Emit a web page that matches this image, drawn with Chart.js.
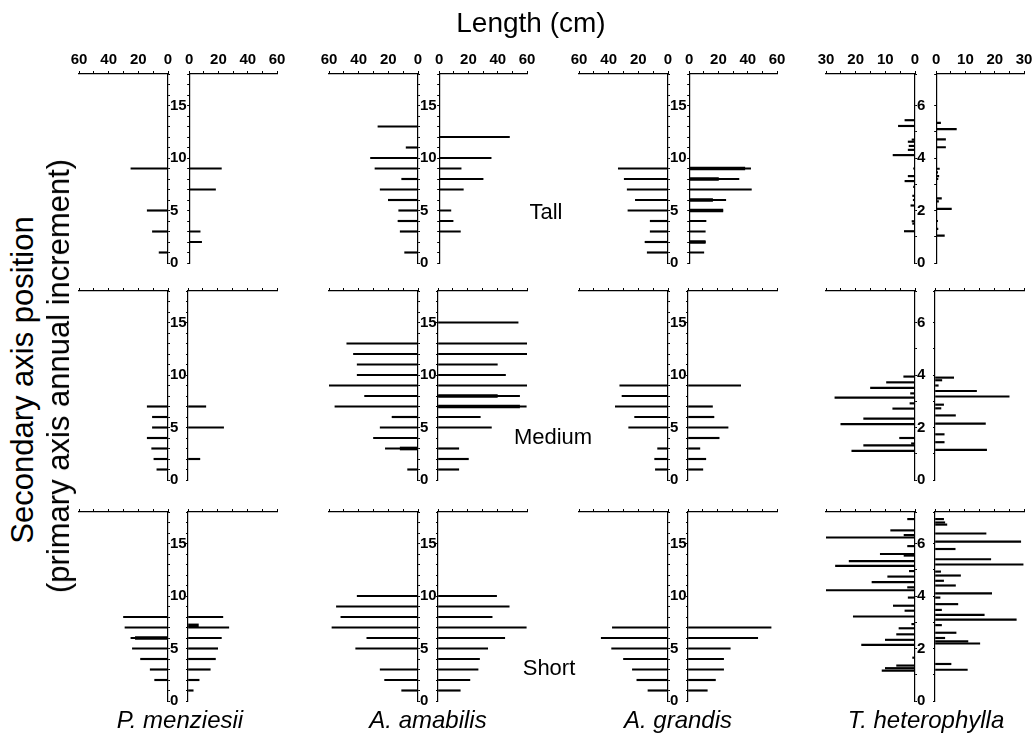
<!DOCTYPE html>
<html>
<head>
<meta charset="utf-8">
<script src="https://cdn.jsdelivr.net/npm/chart.js@4.4.1/dist/chart.umd.min.js"></script>
<style>
body{margin:0;background:#fff;}
#fig{position:relative;width:1032px;height:743px;overflow:hidden;font-family:"Liberation Sans",Arial,sans-serif;color:#000;}
#fig canvas{position:absolute;}
.lbl{position:absolute;transform:translate(-50%,-50%);white-space:nowrap;}
.rot{transform:translate(-50%,-50%) rotate(-90deg);}
</style>
</head>
<body>
<div id="fig"></div>
<script>
// crown profiles: [axis position, branch length cm]
const species = ["P. menziesii", "A. amabilis", "A. grandis", "T. heterophylla"];
const heightClass = ["Tall", "Medium", "Short"];
const xMax = [60, 60, 60, 30];
const xStep = [10, 10, 10, 5];
const xLabelEvery = [20, 20, 20, 10];
const yMax = [18, 18, 18, 7.2];
const yLabelEvery = [5, 5, 5, 2];

// P. menziesii
const pmTallL = [[9,25],[5,14],[3,10.5],[1,6]];
const pmTallR = [[9,22],[7,18],[3,7.5],[2,8.5]];
const pmMedL = [[7,14],[6,10.5],[5,10.5],[4,14],[3,11],[2,9.5],[1,7.5]];
const pmMedR = [[7,12],[5,24],[2,8]];
const pmShortL = [[8,30],[7,29],[6,25],[5,24],[4,18.5],[3,12],[2,9]];
const pmShortLBold = [[6,22]];
const pmShortR = [[8,23.5],[7,27.5],[6,22.5],[5,20],[4,18.5],[3,15],[2,7.5],[1,3.5]];
const pmShortRBold = [[7.2,7]];

// A. amabilis
const aaTallL = [[13,27],[11,8],[10,32],[9,29],[8,11],[7,25.5],[6,20],[5,13],[4,13.5],[3,12],[1,9]];
const aaTallR = [[12,48],[10,35.5],[9,15],[8,30],[7,16.5],[5,8],[4,9.5],[3,14.5]];
const aaMedL = [[13,48],[12,43.5],[11,41],[10,41],[9,60],[8,36],[7,56],[6,17.5],[5,25.5],[4,30],[3,22],[1,7]];
const aaMedLBold = [[3,12]];
const aaMedR = [[15,54],[13,60],[12,60],[11,40],[10,45.5],[9,60],[8,55],[7,59.5],[6,28.5],[5,36],[3,14],[2,20.5],[1,14]];
const aaMedRBold = [[8,40],[7,55]];
const aaShortL = [[10,41],[9,55],[8,52],[7,58],[6,34.5],[5,42],[3,25.5],[2,22.5],[1,11]];
const aaShortR = [[10,39.5],[9,48],[8,36.5],[7,59.5],[6,45],[5,33.5],[4,28],[3,27],[2,21.5],[1,15]];

// A. grandis
const agTallL = [[9,33.5],[8,29.5],[7,27.5],[6,22],[5,27],[4,12],[3,12],[2,15.5],[1,14]];
const agTallR = [[9,42],[8,34],[7,42.5],[6,25],[5,23],[4,11.5],[3,11],[2,11],[1,10]];
const agTallRBold = [[9,38],[8,20],[6,16],[5,23],[2,11]];
const agMedL = [[9,32.5],[8,31],[7,35.5],[6,22.5],[5,26.5],[3,7],[2,9],[1,8.5]];
const agMedR = [[9,35.5],[7,16.5],[6,17.5],[5,27],[4,21],[3,8],[2,12],[1,10]];
const agShortL = [[7,37.5],[6,45],[5,38],[4,30],[3,24],[2,21],[1,13.5]];
const agShortR = [[7,56],[6,47],[5,28.5],[4,24],[3,24],[2,18.5],[1,13]];

// T. heterophylla
const thTallL = [[5.44,3.4],[5.22,5.6],[4.7,1],[4.62,2.3],[4.46,2],[4.31,2.3],[4.11,7.4],[3.6,0.5],[3.31,2.3],[3.12,3.4],[2.9,0.5],[2.56,0.8],[2.4,0.6],[2.19,1.4],[1.59,1],[1.5,0.8],[1.21,3.6]];
const thTallR = [[5.34,1.5],[5.1,6.9],[4.71,3.2],[4.41,3.2],[3.59,1.1],[3.45,0.5],[3.31,0.9],[3.2,0.6],[2.46,1.8],[2.35,0.8],[2.06,5.2],[1.6,0.5],[1.3,0.6],[1.04,2.8]];
const thMedL = [[3.94,3.8],[3.72,9.6],[3.51,15],[3.3,1.5],[3.14,27],[2.92,1.7],[2.72,7.5],[2.34,17.3],[2.13,25],[1.6,5.2],[1.39,1.2],[1.32,17.3],[1.11,21.3]];
const thMedR = [[3.9,6.3],[3.8,2.3],[3.6,1.1],[3.39,14],[3.18,25],[2.87,2.9],[2.73,2],[2.46,6.9],[2.15,17],[1.74,3.1],[1.44,3.1],[1.15,17.4]];
const thShortL = [[6.93,2.5],[6.5,8.2],[6.32,3.7],[6.23,30.9],[5.9,2.5],[5.6,11.7],[5.54,3.7],[5.33,22.2],[5.15,26.8],[4.95,1.9],[4.74,9.2],[4.53,14.5],[4.33,2.5],[4.22,31],[3.94,2.3],[3.63,7.3],[3.44,3.4],[3.22,20.8],[2.93,1.1],[2.77,5.4],[2.54,6.2],[2.33,10],[2.14,18],[1.65,0.8],[1.35,6.2],[1.25,10],[1.16,11.1]];
const thShortR = [[6.93,2.9],[6.8,3.3],[6.72,4],[6.38,17.2],[6.07,28.9],[5.79,6.8],[5.4,18.8],[5.2,29.7],[4.93,1.9],[4.78,8.6],[4.58,2.9],[4.4,6.9],[4.1,19.1],[3.94,1.7],[3.69,7.7],[3.47,2.2],[3.28,16.6],[3.1,27.4],[2.89,2.2],[2.6,7.1],[2.4,3.3],[2.27,11.1],[2.19,15.1],[1.41,5.4],[1.19,10.9]];

const leftData = [[pmTallL, aaTallL, agTallL, thTallL], [pmMedL, aaMedL, agMedL, thMedL], [pmShortL, aaShortL, agShortL, thShortL]];
const rightData = [[pmTallR, aaTallR, agTallR, thTallR], [pmMedR, aaMedR, agMedR, thMedR], [pmShortR, aaShortR, agShortR, thShortR]];
const leftBold = [[null, null, null, null], [null, aaMedLBold, null, null], [pmShortLBold, null, null, null]];
const rightBold = [[null, null, agTallRBold, null], [null, aaMedRBold, null, null], [pmShortRBold, null, null, null]];

// layout
const L0 = [79, 329, 579, 826];
const HALF = 89, GAP = 20;
const rowT = [74, 291, 512], rowB = [263, 480, 701];
const fig = document.getElementById("fig");
const FONT = "'Liberation Sans', Arial, sans-serif";

Chart.defaults.font.family = FONT;

function half(col, row, isL, thin, bold){
  const topH = row === 0 ? 34 : 10;
  const padL = isL ? 14 : 0, padR = isL ? 0 : 14, yW = isL ? 20 : 5;
  const areaX = isL ? L0[col] : L0[col] + HALF + GAP;
  const cv = document.createElement("canvas");
  cv.width = padL + yW + HALF + padR;
  cv.height = topH + (rowB[row] - rowT[row]) + 12;
  cv.style.left = (isL ? areaX - padL : areaX - yW) + "px";
  cv.style.top = (rowT[row] - topH) + "px";
  fig.appendChild(cv);

  const datasets = [{ data: thin.map(p => ({x: p[1], y: p[0]})), backgroundColor: "#000", barThickness: 1.5, grouped: false }];
  if (bold) datasets.push({ data: bold.map(p => ({x: p[1], y: p[0]})), backgroundColor: "#000", barThickness: 3, grouped: false });

  new Chart(cv, {
    type: "bar",
    data: { datasets },
    options: {
      indexAxis: "y",
      responsive: false,
      animation: false,
      layout: { padding: { left: padL, right: padR, top: 0, bottom: 12 } },
      plugins: { legend: { display: false }, tooltip: { enabled: false } },
      scales: {
        x: {
          type: "linear", position: "top", min: 0, max: xMax[col], reverse: isL,
          afterFit: s => { s.height = topH; },
          ticks: {
            stepSize: xStep[col], autoSkip: false, maxRotation: 0, minRotation: 0, padding: 2, color: "#000",
            font: { size: 15, weight: "bold" },
            callback: v => (row === 0 && v % xLabelEvery[col] === 0) ? String(v) : ""
          },
          grid: { drawOnChartArea: false, drawTicks: true, tickLength: 3, color: "#000", lineWidth: 1 },
          border: { display: true, color: "#000", width: 1.2 }
        },
        y: {
          type: "linear", position: isL ? "right" : "left", min: 0, max: yMax[col], offset: false,
          afterFit: s => { s.width = yW; },
          ticks: {
            stepSize: 1, autoSkip: false, padding: 0, color: "#000",
            font: { size: 15, weight: "bold" },
            callback: v => (isL && Math.abs(v % yLabelEvery[col]) < 1e-6) ? String(v) : ""
          },
          grid: { drawOnChartArea: false, offset: false, drawTicks: true, tickLength: 2, color: "#000", lineWidth: 1 },
          border: { display: true, color: "#000", width: 1.2 }
        }
      }
    }
  });
}

for (let r = 0; r < 3; r++){
  for (let c = 0; c < 4; c++){
    half(c, r, true, leftData[r][c], leftBold[r][c]);
    half(c, r, false, rightData[r][c], rightBold[r][c]);
  }
}

function label(text, x, y, css, cls){
  const d = document.createElement("div");
  d.className = "lbl" + (cls ? " " + cls : "");
  d.textContent = text;
  d.style.left = x + "px";
  d.style.top = y + "px";
  d.style.cssText += css;
  fig.appendChild(d);
}

label("Length (cm)", 531, 23, "font-size:28px;");
label("Secondary axis position", 23, 380, "font-size:31px;", "rot");
label("(primary axis annual increment)", 59, 376, "font-size:31px;", "rot");
const rowLabelPos = [[546, 212], [553, 437], [549, 668]];
heightClass.forEach((h, i) => label(h, rowLabelPos[i][0], rowLabelPos[i][1], "font-size:22px;"));
const speciesX = [180, 428, 678, 926];
species.forEach((s, i) => label(s, speciesX[i], 720, "font-size:24px;font-style:italic;"));
</script>
</body>
</html>
